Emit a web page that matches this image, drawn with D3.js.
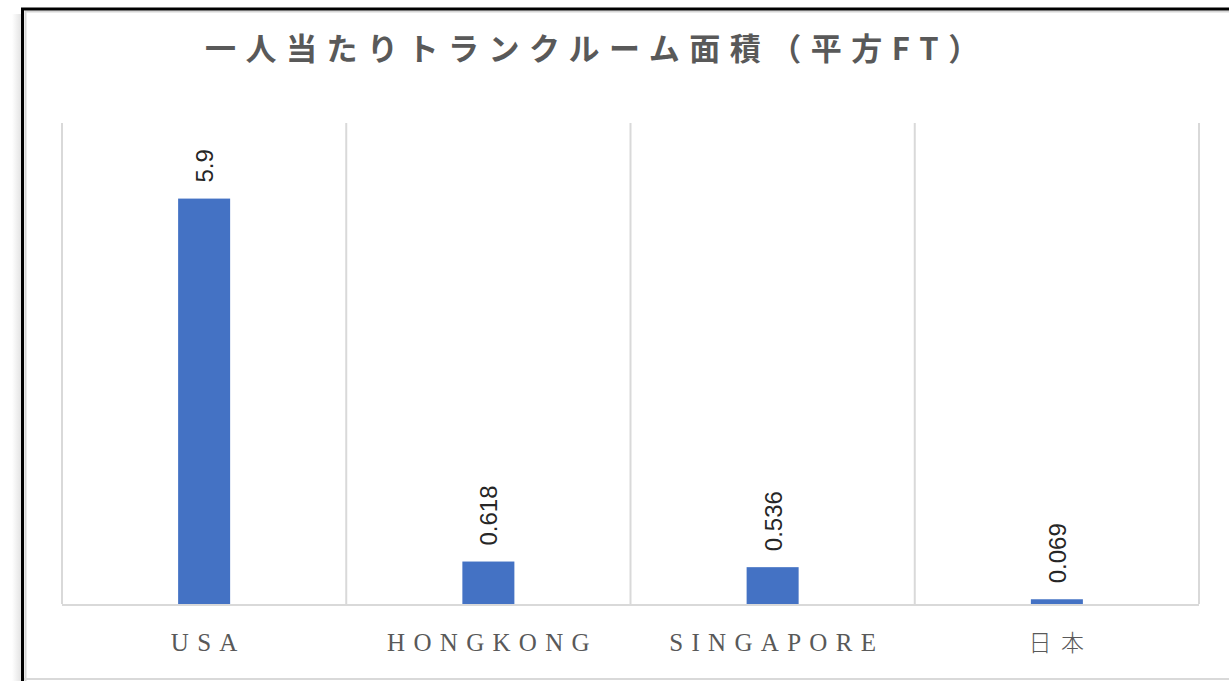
<!DOCTYPE html>
<html>
<head>
<meta charset="utf-8">
<script src="https://cdn.jsdelivr.net/npm/d3@7"></script>
<style>
  html, body { margin: 0; padding: 0; background: #ffffff; }
  svg { display: block; }
</style>
</head>
<body>
<svg id="chart" width="1229" height="681"></svg>
<script>
// Per-capita self-storage floor area (square feet)
const titleText = "一人当たりトランクルーム面積（平方FT）";
const categories = ["USA", "HONGKONG", "SINGAPORE", "日本"];
const values = [5.9, 0.618, 0.536, 0.069];
const valueLabels = ["5.9", "0.618", "0.536", "0.069"];
const yDomain = [0, 7];

const svg = d3.select("#chart");
const W = 1229, H = 681;

// Frame with a soft shadow on the left edge
const defs = svg.append("defs");
const grad = defs.append("linearGradient").attr("id", "shadow")
  .attr("x1", "0").attr("x2", "1").attr("y1", "0").attr("y2", "0");
grad.append("stop").attr("offset", "0").attr("stop-color", "#000").attr("stop-opacity", 0);
grad.append("stop").attr("offset", "1").attr("stop-color", "#000").attr("stop-opacity", 0.12);
svg.append("rect").attr("x", 12).attr("y", 14).attr("width", 10).attr("height", H - 14)
  .attr("fill", "url(#shadow)");

svg.append("line").attr("x1", 25).attr("x2", W).attr("y1", 11.5).attr("y2", 11.5)
  .attr("stroke", "#d6d6d6").attr("stroke-width", 2);
svg.append("line").attr("x1", 25.5).attr("x2", 25.5).attr("y1", 11).attr("y2", H)
  .attr("stroke", "#d6d6d6").attr("stroke-width", 2);
svg.append("line").attr("x1", 24).attr("x2", W).attr("y1", 679).attr("y2", 679)
  .attr("stroke", "#d9d9d9").attr("stroke-width", 2);
svg.append("line").attr("x1", 21).attr("x2", W).attr("y1", 9).attr("y2", 9)
  .attr("stroke", "#000").attr("stroke-width", 3);
svg.append("line").attr("x1", 22.5).attr("x2", 22.5).attr("y1", 8).attr("y2", H)
  .attr("stroke", "#000").attr("stroke-width", 3);

// Scales
const plot = { left: 62, right: 1199, top: 123, bottom: 604 };
const x = d3.scaleBand().domain(categories).range([plot.left, plot.right]).padding(0);
const y = d3.scaleLinear().domain(yDomain).range([plot.bottom, plot.top]);
const barW = x.bandwidth() * 0.183;

// Vertical category separators
const edges = categories.map(c => x(c)).concat([plot.right]);
svg.append("g").selectAll("line").data(edges).join("line")
  .attr("x1", d => d).attr("x2", d => d)
  .attr("y1", plot.top).attr("y2", plot.bottom)
  .attr("stroke", "#d9d9d9").attr("stroke-width", 2);

// Bars
const data = categories.map((c, i) => ({ c, v: values[i], label: valueLabels[i] }));
svg.append("g").selectAll("rect").data(data).join("rect")
  .attr("x", d => x(d.c) + x.bandwidth() / 2 - barW / 2)
  .attr("y", d => y(d.v))
  .attr("width", barW)
  .attr("height", d => y(0) - y(d.v))
  .attr("fill", "#4472C4");

// Baseline axis
svg.append("line").attr("x1", plot.left).attr("x2", plot.right)
  .attr("y1", plot.bottom + 1).attr("y2", plot.bottom + 1)
  .attr("stroke", "#d9d9d9").attr("stroke-width", 2);

// Rotated value labels
svg.append("g").selectAll("text").data(data).join("text")
  .attr("transform", d => `translate(${x(d.c) + x.bandwidth() / 2 + 9},${y(d.v) - 16}) rotate(-90)`)
  .attr("font-family", "'Liberation Sans', Arial, sans-serif")
  .attr("font-size", 24)
  .attr("fill", "#262626")
  .attr("text-anchor", "start")
  .text(d => d.label);

// Category labels
const ls = 8.3;
svg.append("g").selectAll("text").data(categories).join("text")
  .attr("x", d => x(d) + x.bandwidth() / 2 + ls / 2)
  .attr("y", 651)
  .attr("text-anchor", "middle")
  .attr("font-family", d => /^[A-Z]+$/.test(d) ? "'Liberation Serif', 'Times New Roman', serif" : "'Noto Sans CJK JP', sans-serif")
  .attr("font-weight", d => /^[A-Z]+$/.test(d) ? 400 : 300)
  .attr("font-size", d => /^[A-Z]+$/.test(d) ? 25 : 23)
  .attr("letter-spacing", d => /^[A-Z]+$/.test(d) ? ls : 9.6)
  .attr("fill", "#595959")
  .text(d => d);

// Title
svg.append("text")
  .attr("x", 205).attr("y", 60)
  .attr("font-family", "'Noto Sans CJK JP', sans-serif")
  .attr("font-weight", 700)
  .attr("font-size", 31)
  .attr("letter-spacing", 9.5)
  .attr("fill", "#595959")
  .text(titleText);
</script>
</body>
</html>
